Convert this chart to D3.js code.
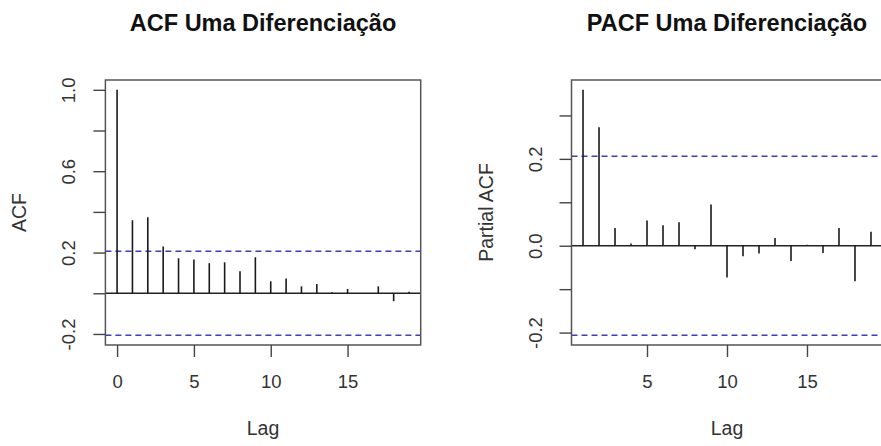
<!DOCTYPE html>
<html>
<head>
<meta charset="utf-8">
<script src="https://cdn.jsdelivr.net/npm/d3@7"></script>
<style>
  html, body { margin: 0; padding: 0; background: #fff; }
  svg { display: block; font-family: "Liberation Sans", Arial, sans-serif; }
</style>
</head>
<body>
<svg id="chart" width="881" height="446"></svg>
<script>
// ---- data ----
const acfLags   = [0, 1, 2, 3, 4, 5, 6, 7, 8, 9, 10, 11, 12, 13, 14, 15, 16, 17, 18, 19];
const acfValues = [1.0, 0.359, 0.374, 0.230, 0.172, 0.166, 0.148, 0.152, 0.108, 0.177,
                   0.059, 0.072, 0.034, 0.046, 0.005, 0.021, -0.003, 0.034, -0.039, 0.007];
const pacfLags   = [1, 2, 3, 4, 5, 6, 7, 8, 9, 10, 11, 12, 13, 14, 15, 16, 17, 18, 19];
const pacfValues = [0.359, 0.273, 0.041, 0.005, 0.058, 0.047, 0.054, -0.008, 0.095, -0.073,
                    -0.024, -0.018, 0.018, -0.035, 0.002, -0.017, 0.041, -0.082, 0.032];
const ciLimit = 0.206;
const acfXTicks = [0, 5, 10, 15];
const pacfXTicks = [5, 10, 15];
const acfYTicks = [-0.2, 0, 0.2, 0.4, 0.6, 0.8, 1.0];
const acfYLabels = [-0.2, 0.2, 0.6, 1.0];
const pacfYTicks = [-0.2, -0.1, 0, 0.1, 0.2, 0.3];
const pacfYLabels = [-0.2, 0.0, 0.2];
const titles = ["ACF Uma Diferenciação", "PACF Uma Diferenciação"];
const yTitles = ["ACF", "Partial ACF"];
const xTitle = "Lag";

const svg = d3.select("#chart");
svg.append("rect").attr("width", 881).attr("height", 446).attr("fill", "#fff");

const fmt = v => d3.format(".1f")(v).replace("\u2212", "-");

function extend(lo, hi) {
  const e = (hi - lo) * 0.04;
  return [lo - e, hi + e];
}

function panel(opts) {
  const { lags, values, left, right, top, bottom, xTicks, yTicks, yLabels, title, yTitle, titleW } = opts;
  const x = d3.scaleLinear().domain(extend(d3.min(lags), d3.max(lags))).range([left, right]);
  const y = d3.scaleLinear()
    .domain(extend(Math.min(-ciLimit, d3.min(values)), Math.max(ciLimit, d3.max(values))))
    .range([bottom, top]);

  const g = svg.append("g");

  // zero line
  g.append("line")
    .attr("x1", left).attr("x2", right)
    .attr("y1", y(0)).attr("y2", y(0))
    .attr("stroke", "#222").attr("stroke-width", 1.4);

  // confidence lines
  [ciLimit, -ciLimit].forEach(c => {
    g.append("line")
      .attr("x1", left).attr("x2", right)
      .attr("y1", y(c)).attr("y2", y(c))
      .attr("stroke", "#3d3dcc").attr("stroke-width", 1.5)
      .attr("stroke-dasharray", "6,4");
  });

  // bars
  g.selectAll("line.bar").data(lags).enter().append("line")
    .attr("class", "bar")
    .attr("x1", d => x(d)).attr("x2", d => x(d))
    .attr("y1", y(0)).attr("y2", (d, i) => y(values[i]))
    .attr("stroke", "#1a1a1a").attr("stroke-width", 1.6);

  // box
  g.append("rect")
    .attr("x", left).attr("y", top)
    .attr("width", right - left).attr("height", bottom - top)
    .attr("fill", "none").attr("stroke", "#555").attr("stroke-width", 1.5);

  // x axis
  const xa = g.append("g").attr("transform", `translate(0,${bottom})`)
    .call(d3.axisBottom(x).tickValues(xTicks).tickSize(12).tickPadding(18).tickFormat(d3.format("d")));
  xa.select(".domain").remove();
  xa.selectAll(".tick line").attr("stroke", "#444").attr("stroke-width", 1.4);
  xa.selectAll(".tick text").attr("fill", "#333").style("font-size", "18.5px")
    .style("font-family", '"Liberation Sans", Arial, sans-serif');

  // y axis
  const ya = g.append("g").attr("transform", `translate(${left},0)`)
    .call(d3.axisLeft(y).tickValues(yTicks).tickSize(12)
      .tickFormat(v => yLabels.some(l => Math.abs(l - v) < 1e-9) ? fmt(v) : ""));
  ya.select(".domain").remove();
  ya.selectAll(".tick line").attr("stroke", "#444").attr("stroke-width", 1.4);
  ya.selectAll(".tick text")
    .attr("transform", "rotate(-90)")
    .attr("x", 0).attr("y", -30).attr("dy", 0)
    .attr("text-anchor", "middle")
    .attr("fill", "#333").style("font-size", "18.5px")
    .style("font-family", '"Liberation Sans", Arial, sans-serif');

  const cx = (left + right) / 2;
  const cy = (top + bottom) / 2;

  // title
  svg.append("text")
    .attr("x", cx).attr("y", 31)
    .attr("text-anchor", "middle")
    .attr("font-weight", "bold").attr("font-size", 23.5)
    .attr("fill", "#111")
    .text(title);

  // axis titles
  svg.append("text")
    .attr("x", cx).attr("y", 435)
    .attr("text-anchor", "middle").attr("font-size", 19.5).attr("fill", "#333")
    .text(xTitle);
  svg.append("text")
    .attr("transform", `translate(${left - 79},${cy}) rotate(-90)`)
    .attr("text-anchor", "middle").attr("font-size", 19.5).attr("fill", "#333")
    .text(yTitle);
}

panel({
  lags: acfLags, values: acfValues,
  left: 105.4, right: 420.7, top: 80, bottom: 345,
  xTicks: acfXTicks, yTicks: acfYTicks, yLabels: acfYLabels,
  title: titles[0], yTitle: yTitles[0]
});
panel({
  lags: pacfLags, values: pacfValues,
  left: 571.5, right: 882.5, top: 80, bottom: 345,
  xTicks: pacfXTicks, yTicks: pacfYTicks, yLabels: pacfYLabels,
  title: titles[1], yTitle: yTitles[1]
});
</script>
</body>
</html>
